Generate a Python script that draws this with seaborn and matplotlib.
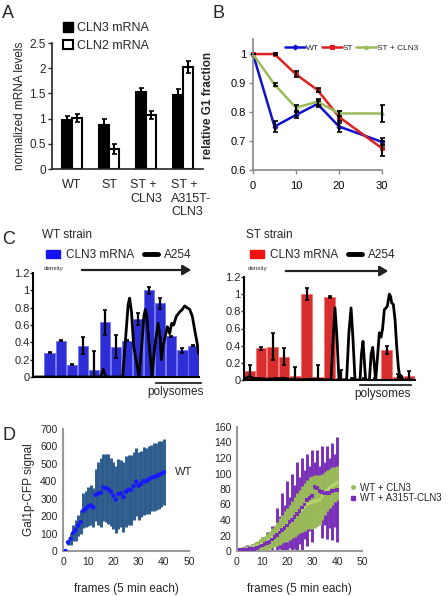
import numpy as np
import pandas as pd
import matplotlib
matplotlib.use("Agg")
import matplotlib.pyplot as plt
import matplotlib.transforms as mtransforms
from matplotlib.lines import Line2D
from matplotlib.patches import Patch
import seaborn as sns

# ---------------- data ----------------
# A: mRNA levels
strains = ["WT", "ST", "ST +\nCLN3", "ST +\nA315T-\nCLN3"]
cln3_mrna = [0.98, 0.88, 1.52, 1.47]
cln3_mrna_err = [0.08, 0.12, 0.08, 0.12]
cln2_mrna = [1.01, 0.40, 1.07, 2.03]
cln2_mrna_err = [0.08, 0.10, 0.08, 0.12]

# B: relative G1 fraction
minutes = [0, 5, 10, 15, 20, 30]
g1_wt = [1.0, 0.75, 0.79, 0.828, 0.75, 0.697]
g1_wt_err = [0, 0.02, 0.01, 0.01, 0.02, 0.012]
g1_st = [1.0, 1.0, 0.93, 0.876, 0.783, 0.675]
g1_st_err = [0, 0.003, 0.01, 0.008, 0.02, 0.025]
g1_stc = [1.0, 0.895, 0.815, 0.836, 0.795, 0.795]
g1_stc_err = [0, 0.004, 0.01, 0.01, 0.01, 0.028]

# C: polysome profiles
fractions = list(range(1, 16))
wt_cln3 = [0, 0.28, 0.42, 0.14, 0.36, 0.08, 0.63, 0.35, 0.42, 0.67, 1.0, 0.85, 0.47, 0.31, 0.36]
wt_cln3_err = [0, 0.005, 0.005, 0.005, 0.1, 0.22, 0.14, 0.13, 0.005, 0.07, 0.04, 0.06, 0.005, 0.03, 0.005]
st_cln3 = [0.11, 0.37, 0.39, 0.27, 0.05, 1.0, 0.03, 0.97, 0.02, 0.01, 0.01, 0.01, 0.35, 0.03, 0.05]
st_cln3_err = [0.07, 0.02, 0.16, 0.1, 0.1, 0.07, 0.15, 0.01, 0.1, 0.01, 0.01, 0.01, 0.05, 0.04, 0.05]

a254_wt_x = [-0.5, 5.6, 5.85, 6.07, 6.3, 7.6, 7.9, 8.1, 8.23, 8.4, 8.6, 9.08, 9.35, 9.52, 9.65, 9.78,
             10.08, 10.25, 10.5, 10.8, 11.0, 11.1, 11.25, 11.64, 11.85, 12.03, 12.21, 12.45, 12.75,
             12.99, 13.2, 13.42, 13.66, 13.9, 14.1, 14.32, 14.47]
a254_wt_y = [0, 0, 0.09, 0, 0, 0, 0.5, 0.84, 0.91, 0.75, 0.35, 0.0, 0.4, 0.7, 0.78, 0.7,
             0.25, 0.0, 0.35, 0.62, 0.45, 0.2, 0.35, 0.58, 0.5, 0.62, 0.6, 0.7, 0.75,
             0.78, 0.82, 0.8, 0.78, 0.7, 0.55, 0.4, 0.27]
a254_st_x = [-0.5, 0.0, 0.3, 1.5, 3.0, 4.0, 5.5, 7.13, 7.35, 7.48, 7.65, 7.83, 8.5, 8.7, 8.89, 9.05,
             9.24, 9.68, 9.8, 9.94, 10.17, 10.5, 10.65, 10.79, 11.05, 11.23, 11.37, 11.52, 11.66,
             11.81, 11.96, 12.07, 12.25, 12.37, 12.45, 12.6, 12.75, 12.89, 13.04, 13.18, 13.3,
             13.45, 13.8, 14.2]
a254_st_y = [0.01, 0.04, 0.02, 0.01, 0.02, 0.0, 0.01, 0.0, 0.55, 0.84, 0.5, 0.0, 0.0, 0.55, 0.84, 0.5,
             0.0, 0.0, 0.3, 0.45, 0.0, 0.0, 0.3, 0.38, 0.0, 0.3, 0.55, 0.5, 0.6,
             0.82, 0.84, 0.86, 1.0, 0.97, 0.9, 0.88, 0.7, 0.4, 0.15, 0.02, 0.05,
             0.0, 0.0, 0.0]

# D: Gal1p-CFP signal, frames 1..40
frames = list(range(1, 41))
wt_gal1 = [0, 50, 70, 103, 120, 145, 165, 230, 242, 255, 262, 250, 322, 330, 335, 365, 360, 355,
           340, 318, 295, 328, 330, 310, 340, 352, 350, 372, 398, 375, 385, 402, 400, 410, 420,
           425, 428, 437, 442, 452]
wt_gal1_sd = [0, 15, 35, 45, 60, 60, 70, 100, 105, 110, 115, 110, 150, 180, 200, 190, 195, 200,
              195, 190, 190, 200, 195, 200, 205, 200, 200, 195, 195, 195, 190, 195, 190, 195,
              190, 195, 190, 195, 190, 190]
cln3_gal1 = [1, 2, 2, 3, 3, 4, 5, 6, 7, 9, 10, 12, 14, 17, 19, 22, 25, 28, 31, 34, 37, 41, 44,
             48, 51, 54, 57, 60, 62, 63, 64, 65, 66, 70, 74, 78, 81, 84, 86, 88]
cln3_gal1_sd = [3, 3, 4, 4, 5, 5, 6, 7, 8, 9, 10, 11, 12, 13, 14, 16, 17, 18, 20, 22, 23, 24, 26,
                27, 28, 30, 31, 32, 33, 34, 34, 33, 32, 30, 28, 27, 25, 24, 23, 22]
a315t_gal1 = [1, 1, 2, 2, 3, 3, 3, 4, 6, 7, 9, 10, 12, 15, 18, 21, 24, 27, 30, 33, 37, 40, 44,
              48, 52, 56, 60, 66, 68, 71, 83, 81, 77, 76, 74, 75, 75, 77, 78, 79]
a315t_gal1_sd = [2, 4, 4, 6, 4, 6, 7, 8, 8, 11, 6, 15, 8, 17, 12, 34, 21, 48, 30, 57, 33, 60, 41,
                 67, 43, 64, 45, 59, 42, 59, 32, 49, 33, 59, 41, 60, 45, 63, 47, 68]

# ---------------- layout ----------------
sns.set_style("ticks")
plt.rcParams["font.family"] = ["Liberation Sans", "DejaVu Sans"]

W, H = 448, 596
fig = plt.figure(figsize=(W / 100, H / 100), dpi=100)


def px_axes(l, t, r, b):
    return fig.add_axes([l / W, 1 - b / H, (r - l) / W, (b - t) / H])


def fig_text(x, y, s, **kw):
    fig.text(x / W, 1 - y / H, s, **kw)


# ---------------- A ----------------
axA = px_axes(52, 43, 203, 169)
dfa = pd.DataFrame({"strain": strains * 2,
                    "level": cln3_mrna + cln2_mrna,
                    "mRNA": ["CLN3 mRNA"] * 4 + ["CLN2 mRNA"] * 4})
sns.barplot(data=dfa, x="strain", y="level", hue="mRNA",
            palette={"CLN3 mRNA": "black", "CLN2 mRNA": "white"},
            edgecolor="black", linewidth=1.5, width=0.56, errorbar=None, ax=axA)
for cont, errs in zip(axA.containers, [cln3_mrna_err, cln2_mrna_err]):
    xs = [p.get_x() + p.get_width() / 2 for p in cont]
    ys = [p.get_height() for p in cont]
    axA.errorbar(xs, ys, yerr=errs, fmt="none", ecolor="black", elinewidth=1.5,
                 capsize=1.8, capthick=1.2)
axA.set_xlim(-0.54, 3.54)
axA.set_ylim(0, 2.5)
axA.set_yticks([0, 0.5, 1, 1.5, 2, 2.5])
axA.set_yticklabels(["0", "0.5", "1", "1.5", "2", "2.5"])
axA.set_xlabel("")
axA.set_ylabel("normalized mRNA levels", fontsize=8.5, labelpad=2)
axA.tick_params(axis="y", labelsize=8.5, length=3, width=1, pad=1.5)
axA.tick_params(axis="x", labelsize=9, length=0, pad=7)
for lab in axA.get_xticklabels():
    lab.set_multialignment("left")
last = axA.get_xticklabels()[-1]
last.set_transform(last.get_transform() + mtransforms.ScaledTranslation(0.08, 0, fig.dpi_scale_trans))
sns.despine(ax=axA)
for s in ["left", "bottom"]:
    axA.spines[s].set_linewidth(1.2)
hA = [Patch(facecolor="black", edgecolor="black"), Patch(facecolor="white", edgecolor="black", linewidth=1.5)]
axA.legend(hA, ["CLN3 mRNA", "CLN2 mRNA"], loc="upper left",
           bbox_to_anchor=(63 / W, 1 - 22 / H), bbox_transform=fig.transFigure,
           frameon=False, fontsize=9, handlelength=0.8, handleheight=0.8,
           handletextpad=0.3, labelspacing=0.45, borderpad=0, borderaxespad=0)

# ---------------- B ----------------
axB = px_axes(253, 39, 382, 170)
series_b = [("WT", g1_wt, g1_wt_err, "#1010d0", "D"),
            ("ST", g1_st, g1_st_err, "#e02020", "s"),
            ("ST + CLN3", g1_stc, g1_stc_err, "#9bbb59", "^")]
for name, vals, errs, col, mk in series_b:
    sns.lineplot(x=minutes, y=vals, color=col, lw=1.8, marker=mk, markersize=2.5,
                 markeredgecolor=col, label=name, ax=axB, clip_on=False)
for name, vals, errs, col, mk in series_b:
    axB.errorbar(minutes, vals, yerr=errs, fmt="none", ecolor="black", elinewidth=1.5,
                 capsize=1.8, capthick=1.2, clip_on=False)
axB.set_xlim(0, 30)
axB.set_ylim(0.6, 1.052)
axB.set_xticks([0, 10, 20, 30])
axB.set_yticks([0.6, 0.7, 0.8, 0.9, 1.0])
axB.set_yticklabels(["0.6", "0.7", "0.8", "0.9", "1"])
axB.tick_params(labelsize=8, length=3, width=1, colors="#888888", labelcolor="black", pad=2)
axB.tick_params(axis="x", pad=5)
sns.despine(ax=axB)
for s in ["left", "bottom"]:
    axB.spines[s].set_color("#888888")
    axB.spines[s].set_linewidth(1.2)
axB.legend(loc="center left", bbox_to_anchor=(285 / W, 1 - 48 / H), bbox_transform=fig.transFigure,
           ncol=3, frameon=False, fontsize=6, handlelength=2.4, handletextpad=0.15,
           columnspacing=0.3, borderpad=0, borderaxespad=0)
fig_text(208, 105, "relative G1 fraction", rotation=90, ha="center", va="center",
         fontsize=8.5, fontweight="bold")


# ---------------- C ----------------
def polysome_panel(ax, vals, errs, lx, ly, col, edge, title, x0, x1, y0):
    sns.barplot(x=fractions, y=vals, color=col, width=0.93, edgecolor=edge,
                linewidth=0.6, errorbar=None, ax=ax)
    xs = [p.get_x() + p.get_width() / 2 for p in ax.patches]
    ax.errorbar(xs, vals, yerr=errs, fmt="none", ecolor="black", elinewidth=1.6,
                capsize=1.3, capthick=1.2)
    sns.lineplot(x=lx, y=ly, color="black", lw=2, estimator=None, sort=False, ax=ax)
    ax.set_xlim(-0.5, 14.5)
    ax.set_ylim(0, 1.2)
    ax.set_yticks([0, 0.2, 0.4, 0.6, 0.8, 1.0, 1.2])
    ax.set_yticklabels(["0", "0.2", "0.4", "0.6", "0.8", "1", "1.2"])
    ax.set_xticks([])
    ax.set_xlabel("")
    ax.set_ylabel("")
    ax.tick_params(axis="y", labelsize=8, length=2, width=1, pad=0.5)
    sns.despine(ax=ax)
    for s in ["left", "bottom"]:
        ax.spines[s].set_linewidth(1.5)
        ax.spines[s].set_color("black")
    hC = [Patch(facecolor=col, edgecolor=col),
          Line2D([0], [0], color="black", lw=3.5, solid_capstyle="round")]
    ax.legend(hC, ["CLN3 mRNA", "A254"], loc="center left",
              bbox_to_anchor=(x0 / W, 1 - 255 / H), bbox_transform=fig.transFigure,
              ncol=2, frameon=False, fontsize=8.5, handlelength=1.2, handleheight=0.7,
              handletextpad=0.5, columnspacing=0.8, borderpad=0, borderaxespad=0)
    fig_text(x0 - 4, 235, title, fontsize=8.5, va="center")
    fig_text(x0 - 2, 269, "density", fontsize=4.5, va="center")
    fig.add_artist(matplotlib.patches.FancyArrowPatch(
        (x1[0] / W, 1 - y0 / H), (x1[1] / W, 1 - y0 / H), transform=fig.transFigure,
        arrowstyle="-|>,head_length=5,head_width=3", color="#222222", lw=1.6))


axC1 = px_axes(33, 273, 199, 377)
polysome_panel(axC1, wt_cln3, wt_cln3_err, a254_wt_x, a254_wt_y, "#1212f2", "#7070ff",
               "WT strain", 46, (79, 194), 270)
axC2 = px_axes(244, 277, 415, 380)
polysome_panel(axC2, st_cln3, st_cln3_err, a254_st_x, a254_st_y, "#f21212", "#ff7070",
               "ST strain", 250, (283, 391), 271)

for (a, b, y) in [(153, 204, 383), (357, 414, 385)]:
    fig.add_artist(matplotlib.patches.FancyArrowPatch(
        (a / W, 1 - y / H), (b / W, 1 - y / H), transform=fig.transFigure,
        arrowstyle="|-|,widthA=0.25,widthB=0.25", color="#333333", lw=1.4))
    fig_text((a + b) / 2 - 3, y + 9, "polysomes", fontsize=8.5, ha="center", va="center")

# ---------------- D ----------------
axD1 = px_axes(63, 429, 189, 551)
axD1.errorbar(frames, wt_gal1, yerr=wt_gal1_sd, fmt="none", ecolor="#2d5b8c", elinewidth=2.1)
sns.scatterplot(x=frames, y=wt_gal1, color="#1818ff", s=10, edgecolor="none", ax=axD1, zorder=3)
axD1.set_xlim(0, 50)
axD1.set_ylim(0, 700)
axD1.set_xticks(range(0, 51, 10))
axD1.set_yticks(range(0, 701, 100))
axD1.set_ylabel("Gal1p-CFP signal", fontsize=8.5, labelpad=4)
axD1.set_xlabel("frames (5 min each)", fontsize=8.5, labelpad=12)
fig_text(175, 472, "WT", fontsize=8, va="center")

axD2 = px_axes(237, 427, 362, 551)
axD2.errorbar(frames, a315t_gal1, yerr=a315t_gal1_sd, fmt="none", ecolor="#7a2fb8", elinewidth=2.1)
axD2.errorbar(frames, cln3_gal1, yerr=cln3_gal1_sd, fmt="none", ecolor="#9bbb59", elinewidth=2.1)
sns.scatterplot(x=frames, y=cln3_gal1, color="#b5d46a", s=7, edgecolor="none", ax=axD2, zorder=3)
sns.scatterplot(x=frames, y=a315t_gal1, color="#7a2fb8", s=7, marker="s", edgecolor="none",
                ax=axD2, zorder=4)
axD2.set_xlim(0, 50)
axD2.set_ylim(0, 160)
axD2.set_xticks(range(0, 51, 10))
axD2.set_yticks(range(0, 161, 20))
axD2.set_xlabel("frames (5 min each)", fontsize=8.5, labelpad=12)
hD = [Line2D([0], [0], color="#9bbb59", marker="o", markersize=2.5, lw=0),
      Line2D([0], [0], color="#7a2fb8", marker="s", markersize=2.5, lw=0)]
axD2.legend(hD, ["WT + CLN3", "WT + A315T-CLN3"], loc="center left",
            bbox_to_anchor=(350 / W, 1 - 493 / H), bbox_transform=fig.transFigure,
            frameon=False, fontsize=7, handlelength=0.7, handletextpad=0.3,
            labelspacing=0.1, borderpad=0, borderaxespad=0)

for ax in (axD1, axD2):
    sns.despine(ax=ax)
    ax.tick_params(labelsize=7.5, length=0, pad=4)
    for s in ["left", "bottom"]:
        ax.spines[s].set_color("#999999")
        ax.spines[s].set_linewidth(1.5)

# panel letters
for letter, x, y in [("A", 2, 14), ("B", 212, 14), ("C", 2, 239), ("D", 2, 435)]:
    fig_text(x, y, letter, fontsize=13, va="center")

fig.savefig("out.png", dpi=100)
